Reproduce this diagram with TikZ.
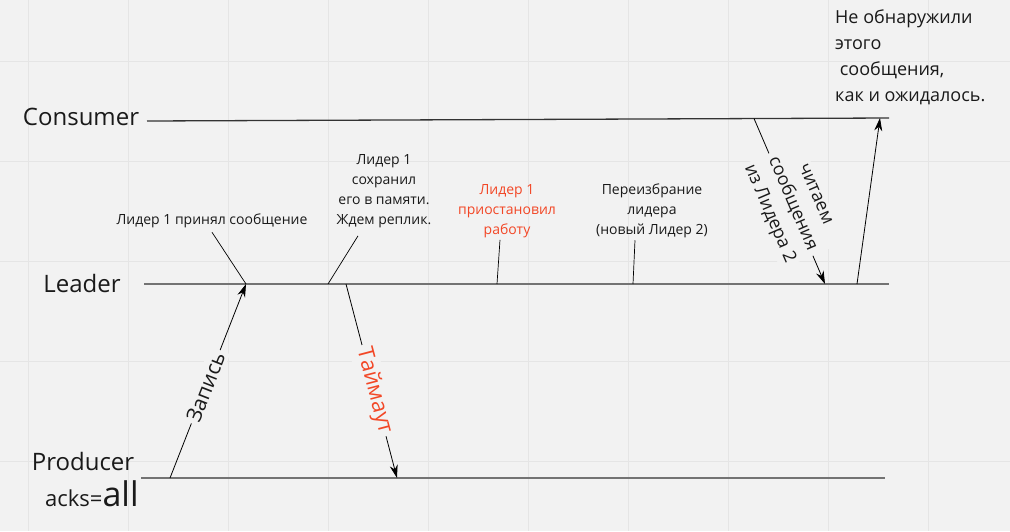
\documentclass[tikz,border=0pt]{standalone}
\usepackage{fontspec}
\setmainfont{Open Sans}
\usetikzlibrary{arrows.meta}
\definecolor{bg}{HTML}{F2F2F2}
\definecolor{gridc}{HTML}{E5E5E5}
\definecolor{alert}{HTML}{F24726}
\definecolor{ink}{HTML}{1A1A1A}
\begin{document}
\begin{tikzpicture}[x=1pt, y=-1pt,
    lane/.style={font=\fontsize{24}{28}\selectfont, text=ink, inner sep=0pt},
    timeline/.style={line width=1.6pt, draw=black!55},
    note/.style={font=\fontsize{14}{20}\selectfont, align=center, text=ink, inner sep=0pt},
    msg/.style={-{Stealth[length=13pt,width=8pt]}, line width=0.8pt},
    tick/.style={line width=0.7pt},
    msglabel/.style={sloped, fill=bg, inner sep=3pt, text=ink}]
  \useasboundingbox (0,0) rectangle (1010,531);
  % board
  \fill[bg] (0,0) rectangle (1010,531);
  \foreach \x in {28,128,...,928}
    \draw[gridc, line width=1pt] (\x,0) -- (\x,531);
  \foreach \y in {61,161,...,461}
    \draw[gridc, line width=1pt] (0,\y) -- (1010,\y);

  % lanes
  \node[lane] (consumer) at (81,117) {Consumer};
  \node[lane] (leader) at (82,283) {Leader};
  \node[lane] (producer) at (83,461) {Producer};
  \node[lane, anchor=base west] (acks) at (45,506)
    {{\fontsize{22}{26}\selectfont acks=}{\fontsize{34}{38}\selectfont all}};

  \coordinate (c0) at (147,121); \coordinate (c1) at (889,118);
  \coordinate (l0) at (144,284); \coordinate (l1) at (889,284);
  \coordinate (p0) at (141,478); \coordinate (p1) at (885,478);
  \draw[timeline, draw=black!80, line width=1.3pt] (c0) -- (c1);
  \draw[timeline] (l0) -- (l1);
  \draw[timeline] (p0) -- (p1);

  % points on the lanes
  \coordinate (p-write) at (170,478);
  \coordinate (l-write) at (246,284);
  \coordinate (l-saved) at (328,284);
  \coordinate (l-timeout) at (346,284);
  \coordinate (p-timeout) at (397,478);
  \coordinate (l-stop) at (497,284);
  \coordinate (l-elect) at (633,284);
  \coordinate (c-read) at (754,118.5);
  \coordinate (l-read) at (825,284);
  \coordinate (l-back) at (857,284);
  \coordinate (c-back) at (880,118);

  % messages
  \draw[msg] (p-write) -- node[msglabel, pos=0.47, font=\fontsize{21}{24}\selectfont] (write) {Запись} (l-write);
  \draw[msg] (l-timeout) -- node[msglabel, pos=0.55, text=alert, font=\fontsize{22}{24}\selectfont] (timeout) {Таймаут} (p-timeout);
  \draw[msg] (c-read) -- node[msglabel, pos=0.52, align=center, font=\fontsize{18}{25}\selectfont] (read) {читаем\\сообщения\\из Лидера 2} (l-read);
  \draw[msg] (l-back) -- (c-back);

  % notes
  \node[note] (accepted) at (212,221) {Лидер 1 принял сообщение};
  \node[note] (saved) at (384,191) {Лидер 1\\сохранил\\его в памяти.\\Ждем реплик.};
  \node[note, text=alert] (stopped) at (507,211) {Лидер 1\\приостановил\\работу};
  \node[note] (elect) at (652,211) {Переизбрание\\лидера\\(новый Лидер 2)};
  \node[note, font=\fontsize{18}{26}\selectfont, align=left, anchor=west] (result) at (835,57)
    {Не обнаружили\\этого\\\ сообщения,\\как и ожидалось.};

  \draw[tick] ([yshift=-4pt]accepted.south) -- (l-write);
  \draw[tick] ([xshift=-26pt,yshift=-8pt]saved.south) -- (l-saved);
  \draw[tick] ([xshift=-7pt,yshift=-2pt]stopped.south) -- (l-stop);
  \draw[tick] ([xshift=-17pt,yshift=-2pt]elect.south) -- (l-elect);
\end{tikzpicture}
\end{document}
